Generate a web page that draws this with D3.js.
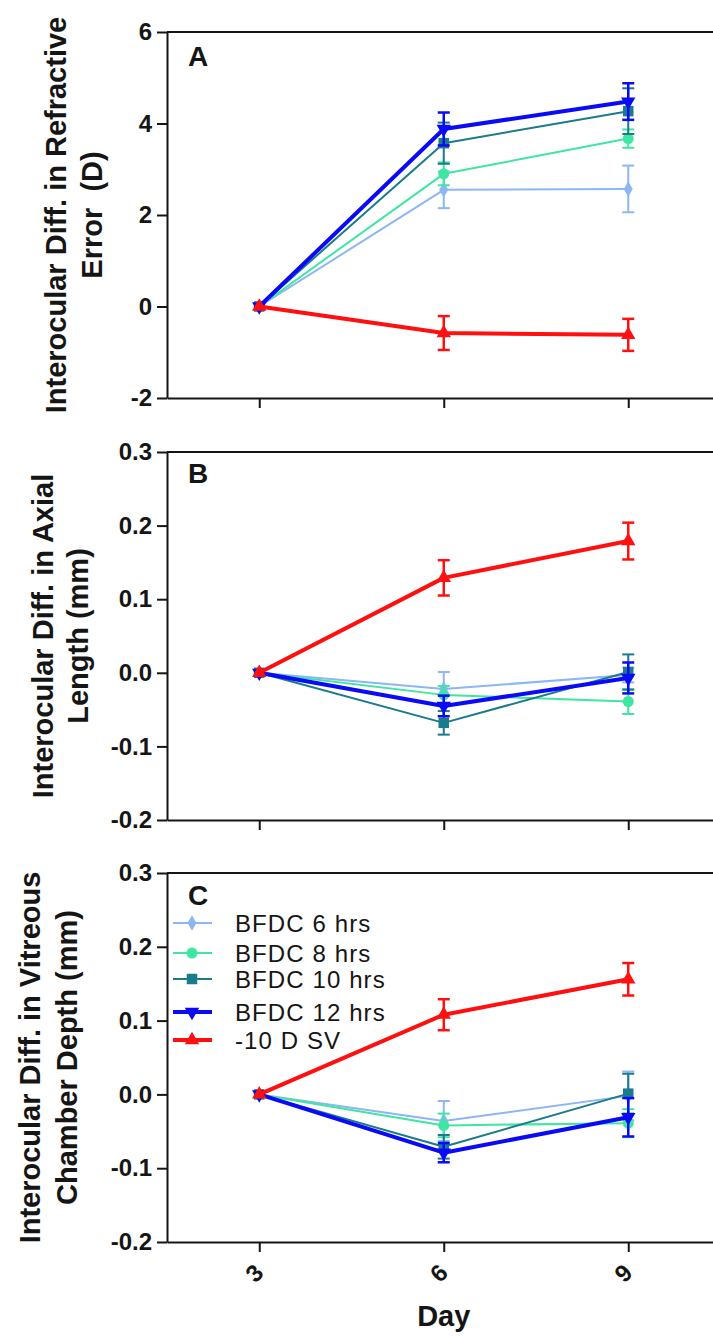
<!DOCTYPE html>
<html>
<head>
<meta charset="utf-8">
<script src="https://cdnjs.cloudflare.com/ajax/libs/d3/7.9.0/d3.min.js"></script>
<style>
  html, body { margin: 0; padding: 0; background: #fff; }
  svg { display: block; }
</style>
</head>
<body>
<div id="chart"></div>
<script>
// Interocular differences after BFDC / -10 D spectacle lens, three stacked panels (A, B, C)

// ---- data ----
const days = [3, 6, 9];
const seriesNames = ['BFDC 6 hrs', 'BFDC 8 hrs', 'BFDC 10 hrs', 'BFDC 12 hrs', '-10 D SV'];

// A: refractive error (D), mean and error per series, at days 3, 6, 9
const refErrMean = [
  [0, 2.55, 2.57],
  [0, 2.90, 3.67],
  [0, 3.57, 4.27],
  [0, 3.88, 4.48],
  [0, -0.58, -0.62]
];
const refErrSem = [
  [0, 0.40, 0.51],
  [0, 0.25, 0.20],
  [0, 0.45, 0.50],
  [0, 0.36, 0.40],
  [0, 0.37, 0.35]
];

// B: axial length (mm)
const axialMean = [
  [0, -0.022, -0.003],
  [0, -0.030, -0.039],
  [0, -0.068, 0.001],
  [0, -0.045, -0.007],
  [0, 0.129, 0.179]
];
const axialSem = [
  [0, 0.023, 0.010],
  [0, 0.012, 0.017],
  [0, 0.016, 0.024],
  [0, 0.014, 0.021],
  [0, 0.024, 0.025]
];

// C: vitreous chamber depth (mm)
const vcdMean = [
  [0, -0.036, -0.002],
  [0, -0.042, -0.039],
  [0, -0.071, 0.001],
  [0, -0.079, -0.031],
  [0, 0.108, 0.156]
];
const vcdSem = [
  [0, 0.027, 0.033],
  [0, 0.016, 0.019],
  [0, 0.016, 0.027],
  [0, 0.013, 0.026],
  [0, 0.021, 0.022]
];

const refTicks = [-2, 0, 2, 4, 6];
const mmTicks = [-0.2, -0.1, 0.0, 0.1, 0.2, 0.3];

// ---- styles ----
const colors = ['#8cb6f4', '#3ee6a2', '#1a7b8c', '#0a0af5', '#ff1010'];
const widths = [2, 2, 2, 4, 4];
const symbols = [d3.symbolDiamond, d3.symbolCircle, d3.symbolSquare, d3.symbolTriangle, d3.symbolTriangle];
const symRotate = [0, 0, 0, 180, 0];
const symSize = [70, 95, 110, 90, 90];

const W = 713, H = 1337;
const FONT = "Arial, 'Liberation Sans', Helvetica, sans-serif";
const INK = '#151515';

const svg = d3.select('#chart').append('svg')
  .attr('width', W)
  .attr('height', H)
  .style('font-family', FONT);

const x = d3.scaleLinear().domain([1.5, 10.5]).range([167, 167 + 9 * 61.5]);

const fmtInt = d => (d < 0 ? '-' : '') + Math.abs(d);
const fmtOne = d => (d < 0 ? '-' : '') + Math.abs(d).toFixed(1);

const panels = [
  { label: 'A', mean: refErrMean, sem: refErrSem, domain: [-2, 6], ticks: refTicks, fmt: fmtInt,
    top: 32, bottom: 398, title: ['Interocular Diff. in Refractive', 'Error  (D)'], titleX: [66, 102], labelY: 66 },
  { label: 'B', mean: axialMean, sem: axialSem, domain: [-0.2, 0.3], ticks: mmTicks, fmt: fmtOne,
    top: 452, bottom: 820, title: ['Interocular Diff. in Axial', 'Length (mm)'], titleX: [53, 88], labelY: 483 },
  { label: 'C', mean: vcdMean, sem: vcdSem, domain: [-0.2, 0.3], ticks: mmTicks, fmt: fmtOne,
    top: 873, bottom: 1242, title: ['Interocular Diff. in Vitreous', 'Chamber Depth (mm)'], titleX: [40, 77], labelY: 905 }
];

panels.forEach((p, pi) => {
  const y = d3.scaleLinear().domain(p.domain).range([p.bottom, p.top]);
  const g = svg.append('g');

  // frame top line
  g.append('line')
    .attr('x1', x.range()[0]).attr('x2', W)
    .attr('y1', p.top).attr('y2', p.top)
    .attr('stroke', INK).attr('stroke-width', 2);

  // y axis
  const ya = g.append('g')
    .attr('transform', `translate(${x.range()[0]},0)`)
    .call(d3.axisLeft(y).tickValues(p.ticks).tickFormat(p.fmt).tickSize(10).tickSizeOuter(0).tickPadding(5));
  ya.selectAll('path, line').attr('stroke', INK).attr('stroke-width', 2);
  ya.selectAll('text').attr('fill', INK).style('font', `bold 24px ${FONT}`);

  // x axis
  const xa = g.append('g')
    .attr('transform', `translate(0,${p.bottom})`)
    .call(d3.axisBottom(x).tickValues(days).tickSize(10).tickSizeOuter(0).tickFormat(''));
  xa.selectAll('path, line').attr('stroke', INK).attr('stroke-width', 2);

  // y title, two lines
  const cy = (p.top + p.bottom) / 2;
  p.title.forEach((t, i) => {
    g.append('text')
      .attr('transform', `translate(${p.titleX[i]},${cy}) rotate(-90)`)
      .attr('text-anchor', 'middle')
      .attr('fill', INK)
      .style('font', `bold 29px ${FONT}`)
      .style('white-space', 'pre')
      .text(t);
  });

  // panel letter
  g.append('text')
    .attr('x', 188).attr('y', p.labelY)
    .attr('fill', INK)
    .style('font', `bold 28px ${FONT}`)
    .text(p.label);

  // series
  seriesNames.forEach((name, si) => {
    const pts = days.map((d, di) => ({ day: d, v: p.mean[si][di], e: p.sem[si][di] }));
    const sg = g.append('g');

    sg.append('path')
      .datum(pts)
      .attr('fill', 'none')
      .attr('stroke', colors[si])
      .attr('stroke-width', widths[si])
      .attr('stroke-linejoin', 'round')
      .attr('d', d3.line().x(d => x(d.day)).y(d => y(d.v)));

    // error bars
    const eb = sg.selectAll('g.eb').data(pts.filter(d => d.e > 0)).join('g').attr('class', 'eb')
      .attr('stroke', colors[si])
      .attr('stroke-width', Math.min(widths[si], 2.5));
    eb.append('line')
      .attr('x1', d => x(d.day)).attr('x2', d => x(d.day))
      .attr('y1', d => y(d.v - d.e)).attr('y2', d => y(d.v + d.e));
    [1, -1].forEach(s => {
      eb.append('line')
        .attr('x1', d => x(d.day) - 6).attr('x2', d => x(d.day) + 6)
        .attr('y1', d => y(d.v + s * d.e)).attr('y2', d => y(d.v + s * d.e));
    });

    sg.selectAll('path.mk').data(pts).join('path').attr('class', 'mk')
      .attr('transform', d => `translate(${x(d.day)},${y(d.v)}) rotate(${symRotate[si]})`)
      .attr('d', d3.symbol().type(symbols[si]).size(symSize[si]))
      .attr('fill', colors[si]);
  });

  // legend in panel C
  if (pi === 2) {
    const legY = [923, 953, 979, 1012, 1040];
    const lg = g.append('g');
    seriesNames.forEach((name, si) => {
      lg.append('line')
        .attr('x1', 173).attr('x2', 212)
        .attr('y1', legY[si]).attr('y2', legY[si])
        .attr('stroke', colors[si]).attr('stroke-width', widths[si]);
      lg.append('path')
        .attr('transform', `translate(192,${legY[si]}) rotate(${symRotate[si]})`)
        .attr('d', d3.symbol().type(symbols[si]).size(symSize[si]))
        .attr('fill', colors[si]);
      lg.append('text')
        .attr('x', 235).attr('y', legY[si])
        .attr('dy', '0.36em')
        .attr('fill', INK)
        .style('font', `24px ${FONT}`)
        .style('letter-spacing', '1.1px')
        .text(name);
    });

    // x tick labels (bottom panel only)
    g.selectAll('text.xt').data(days).join('text').attr('class', 'xt')
      .attr('transform', d => `translate(${x(d) - 5},${p.bottom + 31}) rotate(-45)`)
      .attr('text-anchor', 'middle')
      .attr('dy', '0.35em')
      .attr('fill', INK)
      .style('font', `bold 24px ${FONT}`)
      .text(d => d);

    g.append('text')
      .attr('x', x(6)).attr('y', 1326)
      .attr('text-anchor', 'middle')
      .attr('fill', INK)
      .style('font', `bold 29px ${FONT}`)
      .text('Day');
  }
});
</script>
</body>
</html>
